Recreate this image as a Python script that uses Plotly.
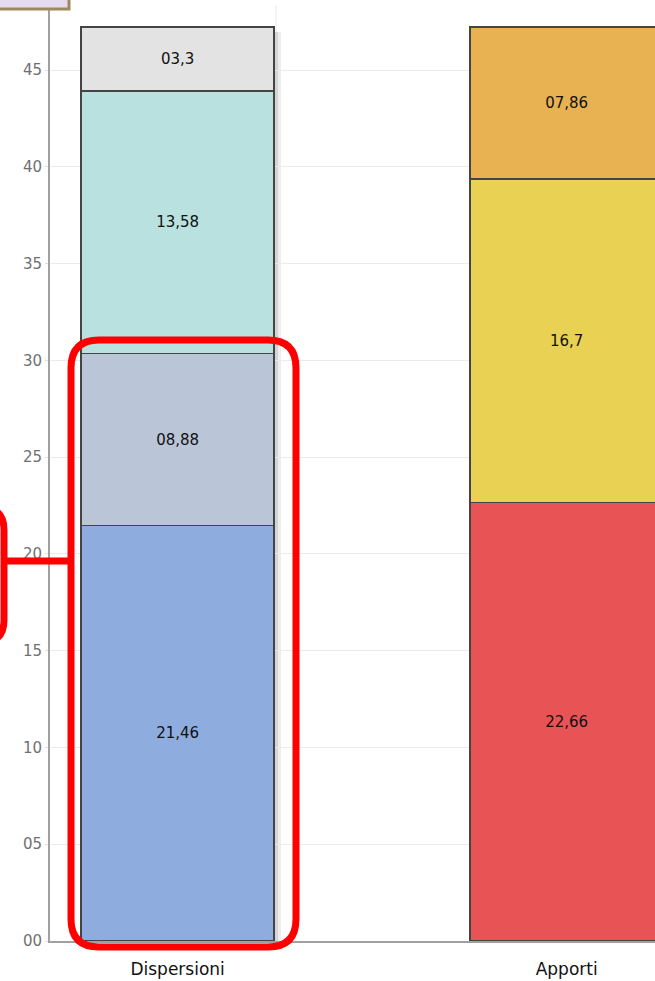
import plotly.graph_objects as go

categories = ["Dispersioni", "Apporti"]

# stacked segments, bottom to top
disp_values = [21.46, 8.88, 13.58, 3.3]
disp_labels = ["21,46", "08,88", "13,58", "03,3"]
disp_colors = ["#8EACDE", "#BAC6D8", "#B9E1DF", "#E3E3E3"]

app_values = [22.66, 16.7, 7.86]
app_labels = ["22,66", "16,7", "07,86"]
app_colors = ["#E85456", "#E8D153", "#E8B152"]

tick_vals = [0, 5, 10, 15, 20, 25, 30, 35, 40, 45]
tick_text = ["00", "05", "10", "15", "20", "25", "30", "35", "40", "45"]

FONT = "DejaVu Sans"

fig = go.Figure()
for cat, vals, labs, cols in [(categories[0], disp_values, disp_labels, disp_colors),
                              (categories[1], app_values, app_labels, app_colors)]:
    for v, lab, col in zip(vals, labs, cols):
        fig.add_trace(go.Bar(
            x=[cat], y=[v], text=[lab], textposition="inside",
            insidetextanchor="middle", textangle=0,
            textfont=dict(color="#111111", size=15, family=FONT),
            marker=dict(color=col, line=dict(color="#444444", width=1.4)),
            width=0.496, showlegend=False, hoverinfo="skip"))

W, H = 655, 981
L, R, T, B = 50, 0, 10, 40
pw, ph = W - L - R, H - T - B

def px(x):
    return (x - L) / pw

def py(y):
    return (H - B - y) / ph

def rounded(x0, y0, x1, y1, r):
    X0, X1 = px(x0), px(x1)
    Y0, Y1 = py(y0), py(y1)
    rx, ry = r / pw, r / ph
    return (f"M {X0+rx},{Y0} L {X1-rx},{Y0} Q {X1},{Y0} {X1},{Y0-ry} "
            f"L {X1},{Y1+ry} Q {X1},{Y1} {X1-rx},{Y1} L {X0+rx},{Y1} "
            f"Q {X0},{Y1} {X0},{Y1+ry} L {X0},{Y0-ry} Q {X0},{Y0} {X0+rx},{Y0} Z")

shapes = [
    # soft shadow right of the first bar
    dict(type="rect", xref="paper", yref="paper", x0=px(275), x1=px(278), y0=py(941), y1=py(32),
         fillcolor="#D4D4D4", line=dict(width=0), layer="below"),
    dict(type="rect", xref="paper", yref="paper", x0=px(278), x1=px(281), y0=py(941), y1=py(32),
         fillcolor="#EDEDED", line=dict(width=0), layer="below"),
    dict(type="line", xref="paper", yref="paper", x0=px(276), x1=px(276), y0=py(32), y1=py(5),
         line=dict(color="#EAEAEA", width=1), layer="below"),
    # highlight around the lower Dispersioni segments
    dict(type="path", xref="paper", yref="paper", path=rounded(71, 340, 296, 947, 28),
         line=dict(color="#FF0000", width=7)),
    dict(type="line", xref="paper", yref="paper", x0=px(4), x1=px(71), y0=py(561), y1=py(561),
         line=dict(color="#FF0000", width=7)),
    dict(type="path", xref="paper", yref="paper", path=rounded(-60, 508, 4, 642, 22),
         line=dict(color="#FF0000", width=7)),
    # small button at top-left
    dict(type="rect", xref="paper", yref="paper", x0=px(-5), x1=px(69), y0=py(-10), y1=py(9),
         fillcolor="#E4DCEE", line=dict(color="#9C8A5E", width=3), layer="above"),
]

fig.update_layout(
    width=W, height=H,
    margin=dict(l=L, r=R, t=T, b=B),
    barmode="stack",
    plot_bgcolor="white", paper_bgcolor="white",
    font=dict(family=FONT, size=12, color="#111111"),
    shapes=shapes,
    xaxis=dict(range=[-0.328, 1.227], showgrid=False, showline=True,
               linecolor="#A0A0A0", linewidth=2, ticks="", ticklabelstandoff=12,
               tickfont=dict(size=17, color="#111111", family=FONT),
               fixedrange=True),
    yaxis=dict(range=[0, 48.1], tickvals=tick_vals, ticktext=tick_text,
               showgrid=True, gridcolor="#EBEBEB", gridwidth=1,
               showline=True, linecolor="#A0A0A0", linewidth=2,
               ticks="outside", ticklen=3, tickcolor="#E0E0E0",
               tickfont=dict(size=15, color="#707070", family=FONT), zeroline=False),
)

fig.write_html("out.html", config={"displayModeBar": False},
               post_script="document.body.style.margin='0';document.body.style.padding='0';document.body.style.overflow='hidden';")
